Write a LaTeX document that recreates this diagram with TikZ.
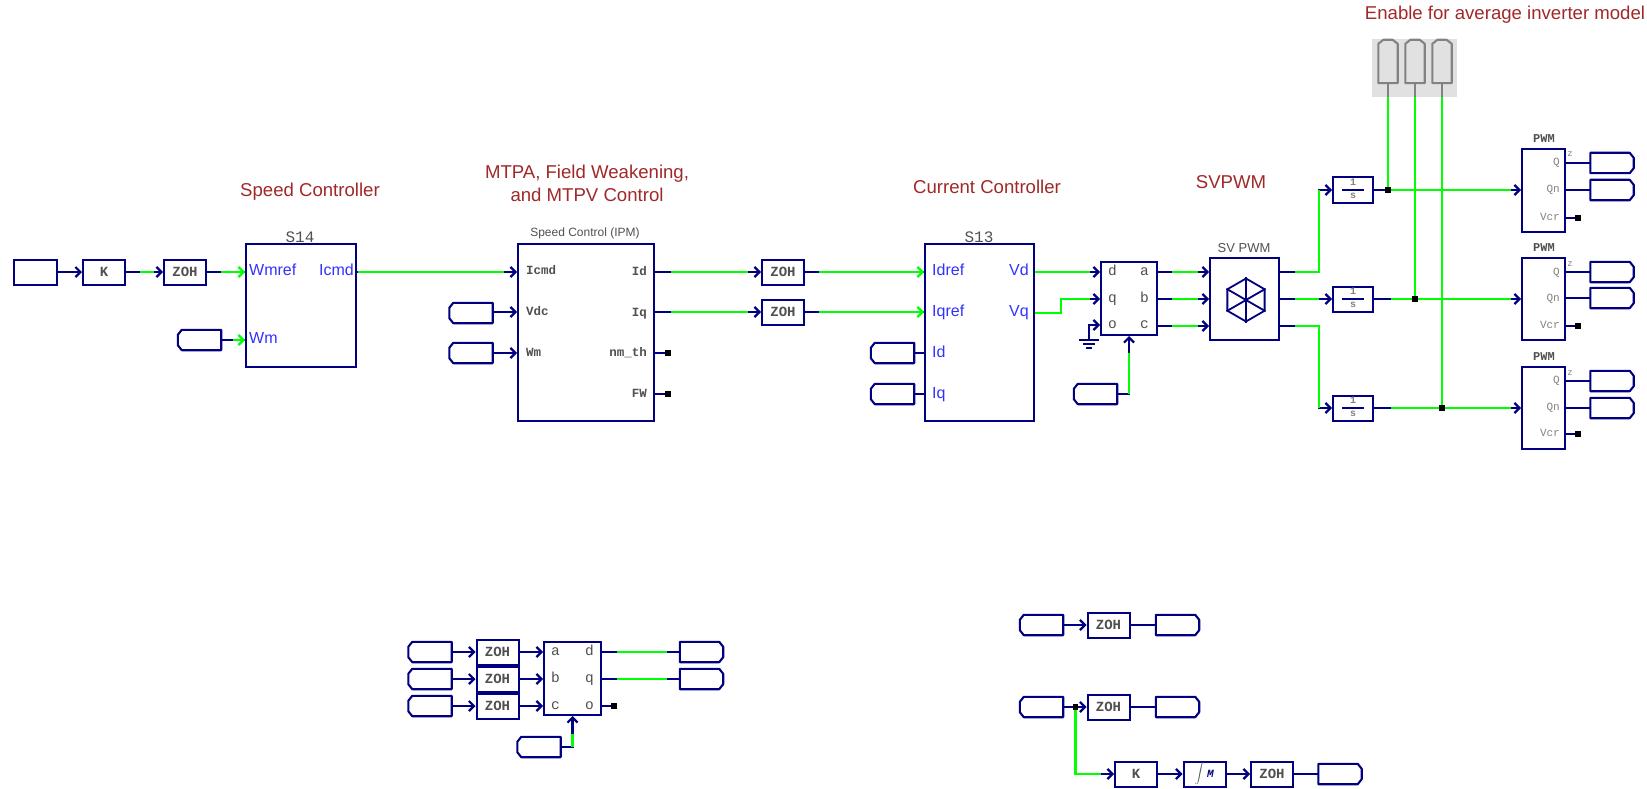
\documentclass[tikz,border=0pt]{standalone}
\usepackage{fontspec}
\setmainfont{Liberation Sans}
\setmonofont{Liberation Mono}
\usepackage{xcolor}
\usepackage{tikz}
\usetikzlibrary{shapes.geometric, arrows.meta, positioning}
\definecolor{navyw}{RGB}{0,0,128}
\definecolor{greenw}{RGB}{0,255,0}
\definecolor{titlec}{RGB}{160,40,40}
\definecolor{portc}{RGB}{50,50,255}
\definecolor{textc}{RGB}{80,80,80}
\definecolor{grayw}{RGB}{130,130,130}
\definecolor{grayb}{RGB}{225,225,225}
\tikzset{
  titulo/.style={font=\fontsize{18.6}{23}\selectfont, color=titlec, align=center, inner sep=0pt},
  bloque/.style={rectangle, draw=navyw, line width=2pt, fill=white, inner sep=0pt},
  zoh/.style={bloque, minimum width=42pt, minimum height=25pt,
    font=\fontsize{14}{14}\selectfont\ttfamily\bfseries, text=textc},
  integ/.style={bloque, minimum width=40pt, minimum height=25pt},
  pwm/.style={bloque, minimum width=43pt, minimum height=82pt},
  puerto/.style={font=\fontsize{16}{16}\selectfont, color=portc, inner sep=0pt,
    text height=0.72em, text depth=0pt, yshift=-1pt},
  mono/.style={font=\fontsize{12.5}{13}\selectfont\ttfamily\bfseries, color=textc, inner sep=0pt,
    text height=0.6em, text depth=0pt},
  monod/.style={mono, font=\fontsize{14.5}{15}\selectfont\ttfamily},
  monog/.style={mono, font=\fontsize{11}{12}\selectfont\ttfamily, color=grayw},
  nombre/.style={font=\fontsize{12}{12}\selectfont, color=textc, inner sep=0pt},
  frac/.style={font=\fontsize{10}{10}\selectfont\ttfamily\bfseries, color=grayw, align=center, inner sep=0pt},
  tagbase/.style={rectangle, minimum width=43pt, minimum height=20pt, inner sep=0pt},
  tagin/.style={tagbase, append after command={\pgfextra{\draw[draw=navyw, line width=2.1pt, line join=round]
    ([xshift=4pt]\tikzlastnode.north west) -- (\tikzlastnode.north east) -- (\tikzlastnode.south east)
    -- ([xshift=4pt]\tikzlastnode.south west) -- ([yshift=5pt]\tikzlastnode.south west)
    -- ([yshift=-5pt]\tikzlastnode.north west) -- cycle;}}},
  tagout/.style={tagbase, append after command={\pgfextra{\draw[draw=navyw, line width=2.1pt, line join=round]
    ([xshift=-4pt]\tikzlastnode.north east) -- (\tikzlastnode.north west) -- (\tikzlastnode.south west)
    -- ([xshift=-4pt]\tikzlastnode.south east) -- ([yshift=5pt]\tikzlastnode.south east)
    -- ([yshift=-5pt]\tikzlastnode.north east) -- cycle;}}},
  tagup/.style={tagbase, minimum width=19pt, minimum height=43pt, append after command={\pgfextra{\draw[draw=grayw, line width=2.1pt, line join=round]
    ([xshift=5pt]\tikzlastnode.north west) -- ([xshift=-5pt]\tikzlastnode.north east)
    -- ([yshift=-4pt]\tikzlastnode.north east) -- (\tikzlastnode.south east) -- (\tikzlastnode.south west)
    -- ([yshift=-4pt]\tikzlastnode.north west) -- cycle;}}},
  nudo/.style={rectangle, fill=black, minimum size=5.5pt, inner sep=0pt},
  azul/.style={draw=navyw, line width=2.1pt},
  flecha/.style={azul, -{Straight Barb[length=5pt, width=10pt, line width=2.2pt]}},
  gris/.style={draw=grayw, line width=2.1pt},
  verde/.style={draw=greenw, line width=2.4pt, shorten <=14pt, shorten >=13pt},
  flechav/.style={draw=greenw, line width=2.4pt, shorten <=14pt,
    -{Straight Barb[length=5pt, width=10pt, line width=2.2pt]}}
}
\begin{document}
\begin{tikzpicture}[x=1pt, y=-1pt]
  \useasboundingbox (0,0) rectangle (1647,789);

  \node[titulo] (tspeed) at (310,192) {Speed Controller};
  \node[titulo] (tmtpa) at (587,183) {MTPA, Field Weakening,\\and MTPV Control};
  \node[titulo] (tcurr) at (987,187) {Current Controller};
  \node[titulo] (tsv) at (1231,182) {SVPWM};
  \node[titulo] (tenable) at (1505,15) {Enable for average inverter model};

  \node[bloque, minimum width=43pt, minimum height=25pt] (src) at (35.5,272) {};
  \node[zoh] (ka) at (104,272) {K};
  \node[zoh] (zoha) at (185,272) {ZOH};
  \node[bloque, minimum width=110pt, minimum height=123pt] (s14) at (301,305.5) {};
  \node[tagin] (tagw) at (199.5,340) {};
  \node[nombre, font=\fontsize{16}{16}\selectfont\ttfamily] (n14) at (300,237) {S14};
  \node[puerto, anchor=west] (pwmref) at (249,271) {Wmref};
  \node[puerto, anchor=east] (picmd) at (354,271) {Icmd};
  \node[puerto, anchor=west] (pwm2) at (249,339) {Wm};

  \node[bloque, minimum width=136pt, minimum height=177pt] (ipm) at (586,332.5) {};
  \node[nombre] (nipm) at (585,233) {Speed Control (IPM)};
  \node[tagin] (tagvdc) at (471,313) {};
  \node[tagin] (tagwm) at (471,353) {};
  \node[mono, anchor=west] (qicmd) at (526,271) {Icmd};
  \node[mono, anchor=west] (qvdc) at (526,312) {Vdc};
  \node[mono, anchor=west] (qwm) at (526,353) {Wm};
  \node[mono, anchor=east] (qid) at (647,272) {Id};
  \node[mono, anchor=east] (qiq) at (647,313) {Iq};
  \node[mono, anchor=east] (qnm) at (647,353) {nm\_th};
  \node[mono, anchor=east] (qfw) at (647,394) {FW};
  \node[nudo] (dnm) at (668,353) {};
  \node[nudo] (dfw) at (668,394) {};

  \node[zoh] (zohb) at (783,272) {ZOH};
  \node[zoh] (zohc) at (783,312) {ZOH};
  \node[bloque, minimum width=109pt, minimum height=177pt] (s13) at (979.5,332.5) {};
  \node[nombre, font=\fontsize{16}{16}\selectfont\ttfamily] (n13) at (979,237) {S13};
  \node[tagin] (tagid) at (892.5,353) {};
  \node[tagin] (tagiq) at (892.5,394) {};
  \node[puerto, anchor=west] (ridref) at (932,271) {Idref};
  \node[puerto, anchor=west] (riqref) at (932,312) {Iqref};
  \node[puerto, anchor=west] (rid) at (932,353) {Id};
  \node[puerto, anchor=west] (riq) at (932,394) {Iq};
  \node[puerto, anchor=east] (rvd) at (1029,271) {Vd};
  \node[puerto, anchor=east] (rvq) at (1029,312) {Vq};

  \node[bloque, minimum width=56pt, minimum height=73pt] (dq) at (1129,298.5) {};
  \node[monod, anchor=west] (dd) at (1108,272) {d};
  \node[monod, anchor=west] (dqq) at (1108,299) {q};
  \node[monod, anchor=west] (do) at (1108,325) {o};
  \node[monod, anchor=east] (da) at (1149,272) {a};
  \node[monod, anchor=east] (db) at (1149,299) {b};
  \node[monod, anchor=east] (dc) at (1149,325) {c};
  \node[tagin] (tagang) at (1095.5,394) {};
  \coordinate (gnd) at (1089,340);
  \coordinate (cvq) at (1061,299);

  \node[bloque, minimum width=69pt, minimum height=82pt] (sv) at (1244.5,299) {};
  \node[nombre, font=\fontsize{13}{13}\selectfont] (nsv) at (1244,248) {SV PWM};
  \node[regular polygon, regular polygon sides=6, regular polygon rotate=30, draw=navyw,
    line width=1.8pt, minimum size=43pt, inner sep=0pt] (hexa) at (1246,300) {};
  \coordinate (sa) at (1279,272);
  \coordinate (sb) at (1279,299);
  \coordinate (sc) at (1279,326);
  \coordinate (ba) at (1319,272);
  \coordinate (bc) at (1319,326);

  \node[integ] (inta) at (1353,190) {};
  \node[integ] (intb) at (1353,299) {};
  \node[integ] (intc) at (1353,408) {};
  \node[frac] (fa) at (1353,189) {1\\[3pt]s};
  \node[frac] (fb) at (1353,298) {1\\[3pt]s};
  \node[frac] (fc) at (1353,407) {1\\[3pt]s};

  \node[rectangle, fill=grayb, minimum width=85pt, minimum height=58pt, inner sep=0pt] (fondo) at (1414.5,68) {};
  \node[tagup] (tupa) at (1388,61.5) {};
  \node[tagup] (tupb) at (1415,61.5) {};
  \node[tagup] (tupc) at (1442,61.5) {};
  \node[nudo] (ja) at (1388,190) {};
  \node[nudo] (jb) at (1415,299) {};
  \node[nudo] (jc) at (1442,408) {};

  \node[pwm] (pwa) at (1543.5,190.5) {};
  \node[pwm] (pwb) at (1543.5,299) {};
  \node[pwm] (pwc) at (1543.5,407.5) {};
  \node[mono, font=\fontsize{12}{12}\selectfont\ttfamily\bfseries] (npa) at (1544,140) {PWM};
  \node[mono, font=\fontsize{12}{12}\selectfont\ttfamily\bfseries] (npb) at (1544,248) {PWM};
  \node[mono, font=\fontsize{12}{12}\selectfont\ttfamily\bfseries] (npc) at (1544,357) {PWM};
  \node[monog, anchor=east] (qa) at (1560,163) {Q};
  \node[monog, anchor=east] (qna) at (1560,190) {Qn};
  \node[monog, anchor=east] (vca) at (1560,217) {Vcr};
  \node[monog, anchor=east] (qb) at (1560,272) {Q};
  \node[monog, anchor=east] (qnb) at (1560,298) {Qn};
  \node[monog, anchor=east] (vcb) at (1560,325) {Vcr};
  \node[monog, anchor=east] (qc) at (1560,380) {Q};
  \node[monog, anchor=east] (qnc) at (1560,407) {Qn};
  \node[monog, anchor=east] (vcc) at (1560,433) {Vcr};
  \node[monog, font=\fontsize{9}{9}\selectfont\ttfamily] (za) at (1570,154) {z};
  \node[monog, font=\fontsize{9}{9}\selectfont\ttfamily] (zb) at (1570,263) {z};
  \node[monog, font=\fontsize{9}{9}\selectfont\ttfamily] (zc) at (1570,372) {z};
  \node[tagout] (toa) at (1612,163) {};
  \node[tagout] (tob) at (1612,190) {};
  \node[tagout] (toc) at (1612,272) {};
  \node[tagout] (tod) at (1612,298) {};
  \node[tagout] (toe) at (1612,381) {};
  \node[tagout] (tof) at (1612,408) {};
  \node[nudo] (dva) at (1578,218) {};
  \node[nudo] (dvb) at (1578,326) {};
  \node[nudo] (dvc) at (1578,434) {};

  \node[tagin] (taga) at (430,652) {};
  \node[tagin] (tagb) at (430,679) {};
  \node[tagin] (tagc) at (430,706) {};
  \node[zoh] (zohd) at (497.5,652) {ZOH};
  \node[zoh] (zohe) at (497.5,679) {ZOH};
  \node[zoh] (zohf) at (497.5,706) {ZOH};
  \node[bloque, minimum width=57pt, minimum height=73pt] (abc) at (572.5,678.5) {};
  \node[monod, anchor=west] (aa) at (551,652) {a};
  \node[monod, anchor=west] (ab) at (551,679) {b};
  \node[monod, anchor=west] (ac) at (551,706) {c};
  \node[monod, anchor=east] (ad) at (594,652) {d};
  \node[monod, anchor=east] (aq) at (594,679) {q};
  \node[monod, anchor=east] (ao) at (594,706) {o};
  \node[tagout] (tagd) at (701.5,652) {};
  \node[tagout] (tagq) at (701.5,679) {};
  \node[nudo] (dao) at (614,706) {};
  \node[tagin] (tagv) at (539,747) {};

  \node[tagin] (tagx) at (1041.5,625) {};
  \node[zoh] (zohg) at (1108.5,625) {ZOH};
  \node[tagout] (tagy) at (1177.5,625) {};
  \node[tagin] (tagz) at (1041.5,707) {};
  \node[nudo] (jz) at (1075.5,707) {};
  \node[zoh] (zohh) at (1108.5,707) {ZOH};
  \node[tagout] (tagr) at (1177.5,707) {};
  \node[zoh] (kb) at (1136,774) {K};
  \node[zoh] (intg) at (1204.5,774) {$\displaystyle\int$\,\textcolor{navyw}{\textit{\fontsize{11}{11}\selectfont M}}};
  \node[zoh] (zohi) at (1272,774) {ZOH};
  \node[tagout] (tags) at (1340,774) {};

  \draw[flecha] (src) -- (ka);
  \draw[flecha] (ka) -- (zoha);
  \draw[verde, shorten >=9pt] (ka) -- (zoha);
  \draw[azul] (zoha) -- (s14.west |- zoha);
  \draw[flechav] (zoha) -- (s14.west |- zoha);
  \draw[azul] (tagw) -- (s14.west |- tagw);
  \draw[flechav, shorten <=12pt] (tagw) -- (s14.west |- tagw);
  \draw[flecha] (s14.east |- zoha) -- (ipm.west |- zoha);
  \draw[verde, shorten <=1pt] (s14.east |- zoha) -- (ipm.west |- zoha);
  \draw[flecha] (tagvdc.east |- qvdc) -- (ipm.west |- qvdc);
  \draw[flecha] (tagwm) -- (ipm.west |- tagwm);
  \draw[flecha] (ipm.east |- zohb) -- (zohb);
  \draw[verde, shorten <=16pt] (ipm.east |- zohb) -- (zohb);
  \draw[flecha] (ipm.east |- zohc) -- (zohc);
  \draw[verde, shorten <=16pt] (ipm.east |- zohc) -- (zohc);
  \draw[azul] (ipm.east |- dnm) -- (dnm);
  \draw[azul] (ipm.east |- dfw) -- (dfw);
  \draw[azul] (zohb) -- (s13.west |- zohb);
  \draw[flechav] (zohb) -- (s13.west |- zohb);
  \draw[azul] (zohc) -- (s13.west |- zohc);
  \draw[flechav] (zohc) -- (s13.west |- zohc);
  \draw[azul] (tagid) -- (s13.west |- tagid);
  \draw[azul] (tagiq) -- (s13.west |- tagiq);

  \draw[flecha] (s13.east |- dd) -- (dq.west |- dd);
  \draw[verde, shorten <=0pt, shorten >=10pt] (s13.east |- dd) -- (dq.west |- dd);
  \draw[flecha] (s13.east |- rvq) -| (cvq) -- (dq.west |- cvq);
  \draw[verde, shorten <=0pt, shorten >=10pt] (s13.east |- rvq) -| (cvq) -- (dq.west |- cvq);
  \draw[flecha] (gnd) |- (dq.west |- do);
  \draw[azul] ([xshift=-10pt]gnd) -- ([xshift=10pt]gnd);
  \draw[azul] ([xshift=-6pt, yshift=-4pt]gnd) -- ([xshift=6pt, yshift=-4pt]gnd);
  \draw[azul] ([xshift=-3pt, yshift=-8pt]gnd) -- ([xshift=3pt, yshift=-8pt]gnd);
  \draw[flecha] (tagang) -| (dq.south);
  \draw[verde, shorten <=0pt, shorten >=17pt] (dq.south |- tagang) -- (dq.south);
  \draw[flecha] (dq.east |- sa) -- (sv.west |- sa);
  \draw[verde, shorten >=11pt] (dq.east |- sa) -- (sv.west |- sa);
  \draw[flecha] (dq.east |- sb) -- (sv.west |- sb);
  \draw[verde, shorten >=11pt] (dq.east |- sb) -- (sv.west |- sb);
  \draw[flecha] (dq.east |- sc) -- (sv.west |- sc);
  \draw[verde, shorten >=11pt] (dq.east |- sc) -- (sv.west |- sc);

  \draw[azul, line width=1.8pt] (hexa.corner 1) -- (hexa.corner 4);
  \draw[azul, line width=1.8pt] (hexa.corner 2) -- (hexa.corner 5);
  \draw[azul, line width=1.8pt] (hexa.corner 3) -- (hexa.corner 6);

  \draw[flecha] (sa) -- (ba) |- (inta);
  \draw[verde, shorten <=16pt] (sa) -- (ba) |- (inta);
  \draw[flecha] (sb) -- (intb);
  \draw[verde, shorten <=16pt] (sb) -- (intb);
  \draw[flecha] (sc) -- (bc) |- (intc);
  \draw[verde, shorten <=16pt] (sc) -- (bc) |- (intc);

  \draw[gris] (tupa) -- (ja);
  \draw[gris] (tupb) -- (jb);
  \draw[gris] (tupc) -- (jc);
  \draw[verde, shorten <=14pt, shorten >=0pt] (tupa) -- (ja);
  \draw[verde, shorten <=14pt, shorten >=0pt] (tupb) -- (jb);
  \draw[verde, shorten <=14pt, shorten >=0pt] (tupc) -- (jc);
  \draw[azul] (inta) -- (ja);
  \draw[azul] (intb) -- (jb);
  \draw[azul] (intc) -- (jc);
  \draw[verde, shorten <=17pt, shorten >=0pt] (intb) -- (jb);
  \draw[verde, shorten <=17pt, shorten >=0pt] (intc) -- (jc);
  \draw[flecha] (ja) -- (pwa.west |- ja);
  \draw[flecha] (jb) -- (pwb.west |- jb);
  \draw[flecha] (jc) -- (pwc.west |- jc);
  \draw[verde, shorten <=0pt, shorten >=10pt] (ja) -- (pwa.west |- ja);
  \draw[verde, shorten <=0pt, shorten >=10pt] (jb) -- (pwb.west |- jb);
  \draw[verde, shorten <=0pt, shorten >=10pt] (jc) -- (pwc.west |- jc);

  \draw[azul, line width=1.6pt] ([xshift=-11pt]inta.center) -- ([xshift=11pt]inta.center);
  \draw[azul, line width=1.6pt] ([xshift=-11pt]intb.center) -- ([xshift=11pt]intb.center);
  \draw[azul, line width=1.6pt] ([xshift=-11pt]intc.center) -- ([xshift=11pt]intc.center);

  \draw[azul] (pwa.east |- toa) -- (toa);
  \draw[azul] (pwa.east |- tob) -- (tob);
  \draw[azul] (pwa.east |- dva) -- (dva);
  \draw[azul] (pwb.east |- toc) -- (toc);
  \draw[azul] (pwb.east |- tod) -- (tod);
  \draw[azul] (pwb.east |- dvb) -- (dvb);
  \draw[azul] (pwc.east |- toe) -- (toe);
  \draw[azul] (pwc.east |- tof) -- (tof);
  \draw[azul] (pwc.east |- dvc) -- (dvc);

  \draw[flecha] (taga) -- (zohd);
  \draw[flecha] (tagb) -- (zohe);
  \draw[flecha] (tagc) -- (zohf);
  \draw[flecha] (zohd) -- (abc.west |- zohd);
  \draw[flecha] (zohe) -- (abc.west |- zohe);
  \draw[flecha] (zohf) -- (abc.west |- zohf);
  \draw[azul] (abc.east |- tagd) -- (tagd);
  \draw[verde, shorten <=15pt] (abc.east |- tagd) -- (tagd);
  \draw[azul] (abc.east |- tagq) -- (tagq);
  \draw[verde, shorten <=15pt] (abc.east |- tagq) -- (tagq);
  \draw[azul] (abc.east |- dao) -- (dao);
  \draw[flecha] (tagv) -| (abc.south);
  \draw[verde, shorten <=0pt, shorten >=18pt] (abc.south |- tagv) -- (abc.south);

  \draw[flecha] (tagx) -- (zohg);
  \draw[azul] (zohg) -- (tagy);
  \draw[azul] (tagz) -- (jz);
  \draw[flecha] (jz) -- (zohh);
  \draw[azul] (zohh) -- (tagr);
  \draw[flecha] (jz) |- (kb);
  \draw[verde, shorten <=0pt] (jz) |- (kb);
  \draw[flecha] (kb) -- (intg);
  \draw[flecha] (intg) -- (zohi);
  \draw[azul] (zohi) -- (tags);
\end{tikzpicture}
\end{document}
